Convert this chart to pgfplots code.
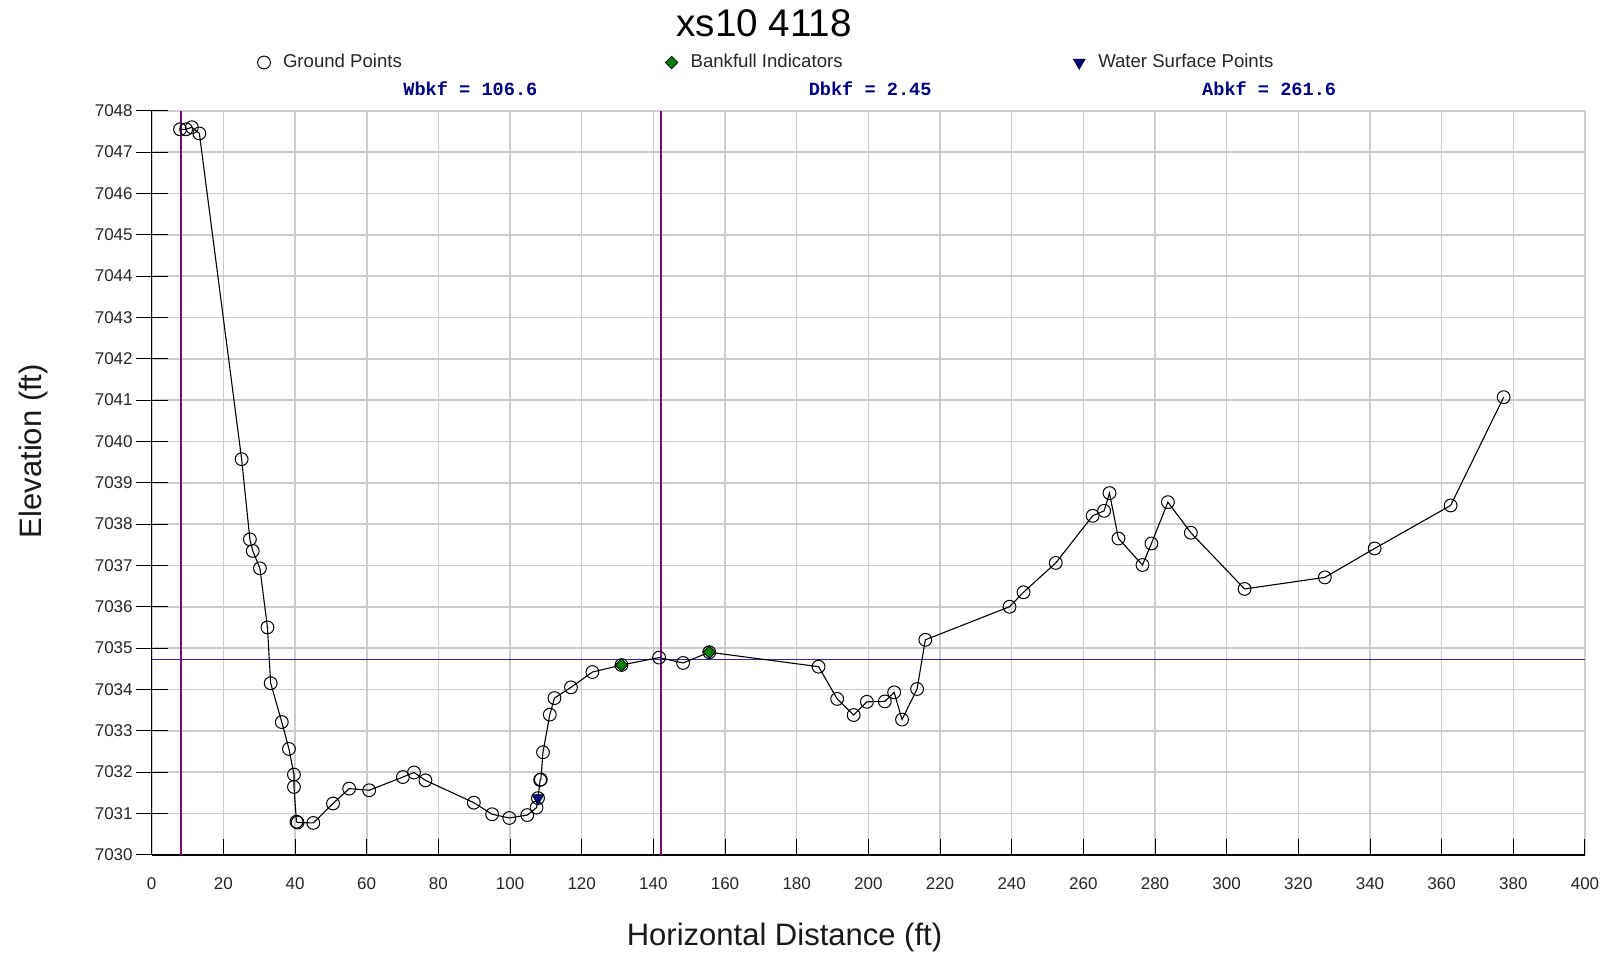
\documentclass[border=0pt]{standalone}
\usepackage{pgfplots}
\pgfplotsset{compat=1.18}
\usepackage{pgfplotstable}
\usepackage{fontspec}
\setmainfont{Liberation Sans}
\newfontfamily\statfont{Liberation Mono}

\definecolor{gridgray}{RGB}{204,204,204}
\definecolor{bkfpurple}{RGB}{128,0,128}
\definecolor{wsblue}{RGB}{44,44,150}
\definecolor{indgreen}{RGB}{0,128,0}
\definecolor{statnavy}{RGB}{0,0,128}

% surveyed ground points: station (ft), elevation (ft)
\pgfplotstableread{
x y
7.9 7047.55
9.6 7047.55
11.2 7047.60
13.3 7047.45
25.1 7039.57
27.4 7037.63
28.2 7037.35
30.2 7036.93
32.3 7035.50
33.2 7034.15
36.3 7033.21
38.3 7032.56
39.7 7031.94
39.7 7031.64
40.4 7030.80
40.7 7030.78
45.1 7030.77
50.6 7031.24
55.1 7031.60
60.7 7031.56
70.1 7031.88
73.2 7031.99
76.4 7031.80
89.9 7031.26
95.0 7030.98
99.8 7030.89
104.8 7030.96
107.4 7031.14
107.8 7031.37
108.4 7031.81
108.6 7031.82
109.2 7032.48
111.1 7033.39
112.4 7033.79
117.0 7034.05
123.0 7034.42
131.1 7034.59
141.6 7034.77
148.3 7034.64
155.6 7034.90
186.1 7034.55
191.3 7033.77
195.9 7033.38
199.6 7033.70
204.6 7033.71
207.2 7033.93
209.4 7033.27
213.6 7034.01
215.9 7035.20
239.4 7036.00
243.3 7036.35
252.3 7037.06
262.6 7038.20
265.8 7038.32
267.3 7038.75
269.8 7037.65
276.5 7037.01
279.0 7037.53
283.6 7038.53
290.0 7037.79
305.0 7036.43
327.4 7036.71
341.3 7037.41
362.5 7038.45
377.3 7041.07
}\groundpts

\begin{document}
\begin{tikzpicture}
\path[use as bounding box] (-75.85pt,-50.15pt) rectangle (728.1pt,427.35pt);
\begin{axis}[
  at={(0,0)}, anchor=south west,
  scale only axis, clip=false,
  width=716.6pt, height=372pt,
  xmin=0, xmax=400, ymin=7030, ymax=7048,
  xtick={0,20,...,400},
  ytick={7030,7031,...,7048},
  grid=major,
  grid style={gridgray, line width=0.8pt},
  axis x line*=bottom, axis y line*=left,
  x axis line style={black, line width=0.9pt},
  y axis line style={black, line width=0.6pt},
  xtick align=inside, ytick align=center,
  xtick style={black, line width=0.5pt, /pgfplots/major tick length=8pt},
  ytick style={black, line width=0.5pt, /pgfplots/major tick length=16pt},
  /pgf/number format/assume math mode=true,
  /pgf/number format/1000 sep={},
  ticklabel style={font=\fontsize{8.5}{10}\selectfont, text=black!85},
  xticklabel style={anchor=base, yshift=-17.2pt, inner sep=0pt},
  yticklabel style={anchor=east, xshift=-7.2pt, inner sep=0pt},
  xlabel={Horizontal Distance (ft)},
  ylabel={Elevation (ft)},
  label style={font=\fontsize{15.5}{18}\selectfont, text=black!90},
  xlabel style={at={(axis description cs:0.4415,-0.12204)}, anchor=base, inner sep=0pt},
  ylabel style={at={(axis description cs:-0.07675,0.5426)}, anchor=base, inner sep=0pt},
  legend columns=3,
  legend style={draw=none, fill=none, at={(axis description cs:0.07138,1.0648)},
    anchor=west, inner sep=0pt, outer sep=0pt, column sep=0pt,
    /tikz/every odd column/.append style={column sep=4.5pt},
    font=\fontsize{9.3}{11}\selectfont, text=black!85, nodes={inner sep=0pt}},
  legend image code/.code={\path[draw=none, fill=none] (-5pt,-3.5pt) rectangle (5pt,3.5pt);
    \draw[#1] plot coordinates {(0pt,0pt)};},
]
% bankfull limits and bankfull stage
\addplot[bkfpurple, line width=1.1pt, forget plot] coordinates {(8.1,7030) (8.1,7048)};
\addplot[bkfpurple, line width=1.1pt, forget plot] coordinates {(142.1,7030) (142.1,7048)};
\addplot[wsblue, line width=0.6pt, forget plot] coordinates {(0,7034.72) (400,7034.72)};

\addplot[black, line width=0.55pt, mark=o, mark size=3.2pt,
  mark options={solid, line width=0.5pt}] table {\groundpts};
\addlegendentry{\makebox[189.3pt][l]{Ground Points}}

\addplot[only marks, mark=square*, mark size=2.2pt,
  mark options={rotate=45, fill=indgreen, draw=black, line width=0.4pt}]
  coordinates {(131.1,7034.59) (155.6,7034.90)};
\addlegendentry{\makebox[189.3pt][l]{Bankfull Indicators}}

\addplot[only marks, mark=triangle*, mark size=3.4pt,
  mark options={rotate=180, fill=statnavy, draw=black, line width=0.3pt}]
  coordinates {(107.8,7031.37)};
\addlegendentry{Water Surface Points}

% chart title
\node[anchor=base, inner sep=0pt, font=\fontsize{19.3}{22}\selectfont]
  at (axis description cs:0.42723,1.10040) {xs10 4118};

% bankfull summary values
\node[anchor=base west, inner sep=0pt, text=statnavy,
  font=\statfont\fontsize{9.3}{11}\selectfont\bfseries]
  at (axis description cs:0.17534,1.02110) {Wbkf = 106.6};
\node[anchor=base west, inner sep=0pt, text=statnavy,
  font=\statfont\fontsize{9.3}{11}\selectfont\bfseries]
  at (axis description cs:0.45814,1.02110) {Dbkf = 2.45};
\node[anchor=base west, inner sep=0pt, text=statnavy,
  font=\statfont\fontsize{9.3}{11}\selectfont\bfseries]
  at (axis description cs:0.73263,1.02110) {Abkf = 261.6};
\end{axis}
\end{tikzpicture}
\end{document}
